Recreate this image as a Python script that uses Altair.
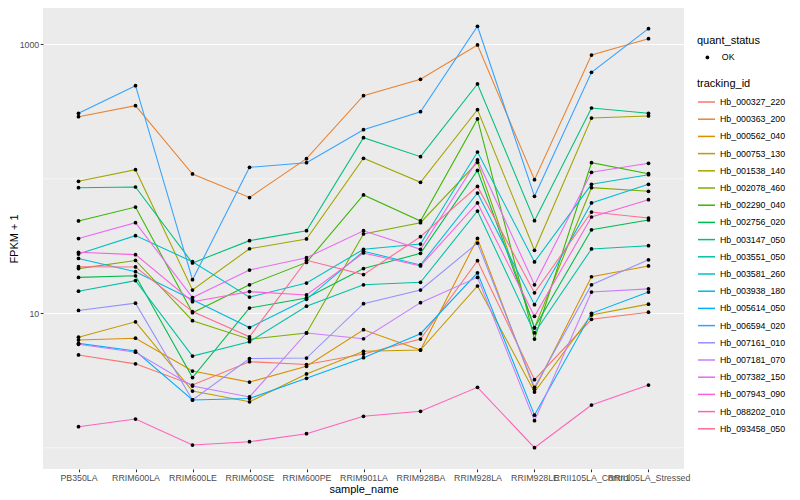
import altair as alt
import pandas as pd

samples = ["PB350LA", "RRIM600LA", "RRIM600LE", "RRIM600SE", "RRIM600PE", "RRIM901LA",
           "RRIM928BA", "RRIM928LA", "RRIM928LE", "RRII105LA_Control", "RRII105LA_Stressed"]

tracking_ids = ["Hb_000327_220", "Hb_000363_200", "Hb_000562_040", "Hb_000753_130",
                "Hb_001538_140", "Hb_002078_460", "Hb_002290_040", "Hb_002756_020",
                "Hb_003147_050", "Hb_003551_050", "Hb_003581_260", "Hb_003938_180",
                "Hb_005614_050", "Hb_006594_020", "Hb_007161_010", "Hb_007181_070",
                "Hb_007382_150", "Hb_007943_090", "Hb_088202_010", "Hb_093458_050"]

palette = ["#F8766D", "#EA8331", "#D89000", "#C09B00", "#A3A500", "#7CAE00", "#39B600",
           "#00BB4E", "#00BF7D", "#00C1A3", "#00BFC4", "#00BAE0", "#00B0F6", "#35A2FF",
           "#9590FF", "#C77CFF", "#E76BF3", "#FA62DB", "#FF62BC", "#FF6C91"]

# FPKM + 1 per sample (order of `samples`)
hb_000327_220 = [4.90, 4.21, 2.93, 4.37, 4.16, 4.98, 6.44, 24.6, 3.21, 9.03, 10.2]
hb_000363_200 = [289.5, 349.5, 108.6, 72.6, 141.1, 414.7, 549, 988, 98.5, 832, 1100]
hb_000562_040 = [6.33, 6.53, 3.72, 3.08, 4.04, 7.55, 5.33, 36.0, 2.72, 18.7, 22.5]
hb_000753_130 = [6.64, 8.65, 2.64, 2.20, 3.54, 5.22, 5.33, 15.96, 2.60, 9.71, 11.7]
hb_001538_140 = [95.8, 116.9, 14.9, 30.2, 35.7, 142.1, 94.2, 326.4, 29.4, 283.1, 293.1]
hb_002078_460 = [21.5, 24.7, 8.81, 6.42, 7.14, 38.9, 47.2, 132.6, 7.81, 85.9, 80.7]
hb_002290_040 = [48.6, 61.7, 10.1, 16.3, 23.9, 75.8, 48.6, 278.4, 6.44, 131.7, 109.1]
hb_002756_020 = [18.5, 19.0, 3.33, 10.95, 13.0, 21.5, 27.9, 115.3, 7.81, 41.8, 49.4]
hb_003147_050 = [85.9, 86.9, 23.66, 34.7, 41.1, 202.1, 146.0, 506.9, 48.8, 336.0, 306.9]
hb_003551_050 = [14.6, 17.5, 4.81, 6.15, 11.3, 16.3, 17.0, 57.6, 7.14, 30.1, 31.8]
hb_003581_260 = [27.6, 37.8, 24.2, 13.2, 16.8, 29.9, 32.7, 158.2, 24.1, 91.0, 107.3]
hb_003938_180 = [25.6, 20.4, 12.6, 7.84, 12.7, 28.9, 22.9, 78.4, 11.6, 66.1, 91.0]
hb_005614_050 = [5.98, 5.24, 2.27, 2.33, 3.29, 4.68, 7.05, 20.0, 1.75, 10.0, 14.4]
hb_006594_020 = [306.9, 492, 17.78, 121.8, 131.7, 231.8, 315.4, 1361, 74.1, 619, 1306]
hb_007161_010 = [10.5, 11.9, 2.27, 4.61, 4.65, 11.8, 14.9, 33.3, 2.82, 16.3, 25.0]
hb_007181_070 = [5.88, 5.14, 2.88, 2.39, 7.14, 6.47, 12.0, 18.5, 1.59, 14.4, 15.2]
hb_007382_150 = [35.98, 47.2, 13.1, 20.98, 25.9, 41.1, 29.9, 138.0, 16.3, 111.8, 130.4]
hb_007943_090 = [28.4, 27.3, 12.2, 14.5, 13.7, 28.1, 22.5, 66.1, 9.5, 52.0, 69.9]
hb_088202_010 = [1.435, 1.637, 1.049, 1.110, 1.273, 1.715, 1.868, 2.817, 1.002, 2.080, 2.930]
hb_093458_050 = [22.2, 22.1, 10.3, 6.69, 24.8, 19.4, 37.1, 87.7, 14.2, 56.6, 51.1]

major_breaks = [10, 1000]
minor_breaks = [1, 100]

series_values = [hb_000327_220, hb_000363_200, hb_000562_040, hb_000753_130, hb_001538_140,
                 hb_002078_460, hb_002290_040, hb_002756_020, hb_003147_050, hb_003551_050,
                 hb_003581_260, hb_003938_180, hb_005614_050, hb_006594_020, hb_007161_010,
                 hb_007181_070, hb_007382_150, hb_007943_090, hb_088202_010, hb_093458_050]

rows = []
for tid, vals in zip(tracking_ids, series_values):
    for i, (s, v) in enumerate(zip(samples, vals)):
        rows.append({"tracking_id": tid, "sample_name": s, "idx": i, "fpkm": v,
                     "quant_status": "OK"})
df = pd.DataFrame(rows)
minor_df = pd.DataFrame({"fpkm": minor_breaks})

axis_common = dict(domain=False, gridColor="white", gridWidth=1.07, tickColor="#333333",
                   tickSize=2.75, tickWidth=1.07, labelColor="#4D4D4D", labelFontSize=8.8,
                   titleFontSize=11, titleColor="black", titleFontWeight="normal",
                   labelPadding=1.5)

x_enc = alt.X("sample_name:N", sort=samples,
              scale=alt.Scale(type="point", padding=0.623),
              axis=alt.Axis(title="sample_name", labelAngle=0, labelOverlap=False,
                            titlePadding=1, **axis_common))
y_enc = alt.Y("fpkm:Q",
              scale=alt.Scale(type="log", domain=[0.696, 1861], nice=False),
              axis=alt.Axis(title="FPKM + 1", values=major_breaks, format="d",
                            titlePadding=0, **axis_common))

minor = alt.Chart(minor_df).mark_rule(color="white", strokeWidth=0.53).encode(y=y_enc)

lines = alt.Chart(df).mark_line(strokeWidth=1.07).encode(
    x=x_enc, y=y_enc,
    order=alt.Order("idx:Q"),
    color=alt.Color("tracking_id:N",
                    scale=alt.Scale(domain=tracking_ids, range=palette),
                    legend=alt.Legend(title="tracking_id", orient="none", legendX=654,
                                      legendY=70, symbolType="stroke", symbolSize=289,
                                      symbolStrokeWidth=1.5, rowPadding=2.2,
                                      labelOffset=4, titlePadding=3.5, padding=0)),
)

points = alt.Chart(df).mark_point(filled=True, color="black", size=14, opacity=1).encode(
    x=x_enc, y=y_enc,
    shape=alt.Shape("quant_status:N", scale=alt.Scale(range=["circle"]),
                    legend=alt.Legend(title="quant_status", orient="none", legendX=654,
                                      legendY=27, symbolFillColor="black",
                                      symbolStrokeColor="black", symbolSize=14,
                                      symbolOffset=6, labelOffset=10, titlePadding=7,
                                      padding=0)),
)

chart = alt.layer(minor, lines, points).properties(
    width=641, height=461,
    padding={"left": 35, "top": 0, "right": 108, "bottom": 28},
    autosize=alt.AutoSizeParams(type="none"),
).configure(
    font="Liberation Sans",
).configure_view(
    fill="#EBEBEB", stroke=None,
).configure_legend(
    titleFontSize=11, titleFontWeight="normal", titleColor="black",
    labelFontSize=8.8, labelColor="black",
)

chart.save("out.html", embed_options={"renderer": "svg", "actions": False})
